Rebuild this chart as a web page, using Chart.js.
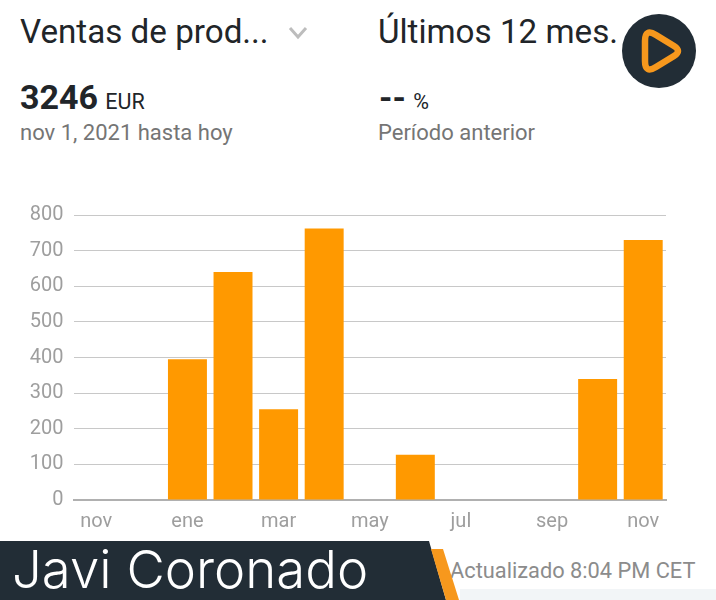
<!DOCTYPE html>
<html>
<head>
<meta charset="utf-8">
<script src="https://cdn.jsdelivr.net/npm/chart.js@4"></script>
<style>
html, body { margin: 0; padding: 0; background: #fff; }
#page { position: relative; width: 716px; height: 600px; overflow: hidden; font-family: Roboto, sans-serif; }
#page div { position: absolute; white-space: nowrap; }
#chart-box { left: 0; top: 193px; width: 716px; height: 347px; }
.title { font-size: 33.2px; line-height: 38px; color: #212529; top: 13px; }
.sub { font-size: 22px; line-height: 24px; color: #757575; top: 121px; }
.big { top: 78px; line-height: 38px; color: #212529; font-size: 21.5px; }
.big b { font-size: 34px; font-weight: 700; margin-right: 2px; }
#updated { left: 450px; top: 558px; font-size: 21.8px; line-height: 26px; color: #8c8c8c; }
#strip { left: 460px; top: 589px; width: 256px; height: 11px; background: #f2f5f7; }
#name { left: 12px; top: 538px; font-size: 52.7px; line-height: 62px; color: #fff; font-weight: 300; font-family: Inter, sans-serif; }
svg { position: absolute; left: 0; top: 0; }
</style>
</head>
<body>
<div id="page">
  <div id="chart-box"><canvas id="sales-chart"></canvas></div>

  <div class="title" style="left:20px">Ventas de prod...</div>
  <div class="title" style="left:378px">Últimos 12 mes.</div>
  <div class="big" style="left:20px"><b>3246</b> EUR</div>
  <div class="big" style="left:379px"><b>--</b> %</div>
  <div class="sub" style="left:20px">nov 1, 2021 hasta hoy</div>
  <div class="sub" style="left:378px">Período anterior</div>
  <div id="strip"></div>
  <div id="updated">Actualizado 8:04 PM CET</div>

  <svg width="716" height="600">
    <polyline points="290,28 298,37 306,28" fill="none" stroke="#bdbdbd" stroke-width="3"/>
    <circle cx="659" cy="51" r="37" fill="#222d36"/>
    <path d="M645 41 Q645 28 656 35 L674 46 Q682 51 674 56 L656 67 Q645 74 645 61 Z" fill="none" stroke="#f7981d" stroke-width="6.5" stroke-linejoin="round"/>
    <polygon points="0,541 429,541 446,600 0,600" fill="#222d36"/>
    <polygon points="431,549 443,549 459,600 446,600" fill="#f7981d"/>
  </svg>
  <div id="name">Javi Coronado</div>
</div>

<script>
const months = ['nov', 'dic', 'ene', 'feb', 'mar', 'abr', 'may', 'jun', 'jul', 'ago', 'sep', 'oct', 'nov'];
const sales = [0, 0, 395, 640, 255, 762, 0, 127, 0, 0, 0, 340, 730];
const yTicks = [0, 100, 200, 300, 400, 500, 600, 700, 800];

const ctx = document.getElementById('sales-chart').getContext('2d');

new Chart(ctx, {
    type: 'bar',
    data: {
        labels: months,
        datasets: [{
            data: sales,
            backgroundColor: '#ff9900',
            categoryPercentage: 1,
            barPercentage: 0.855
        }]
    },
    options: {
        responsive: true,
        maintainAspectRatio: false,
        animation: false,
        layout: { padding: { top: 8, right: 50, bottom: 0, left: 0 } },
        plugins: {
            legend: { display: false },
            tooltip: { enabled: false }
        },
        scales: {
            x: {
                grid: { display: false },
                border: { color: '#b0b0b0', width: 2 },
                ticks: {
                    autoSkip: false,
                    maxRotation: 0,
                    padding: 2,
                    color: '#9e9e9e',
                    font: { family: 'Roboto', size: 20 },
                    callback: function (value, index) {
                        return index % 2 === 0 ? months[index] : '';
                    }
                },
                afterFit: function (scale) { scale.height = 40; }
            },
            y: {
                min: 0,
                max: 800,
                afterBuildTicks: function (scale) {
                    scale.ticks = yTicks.map(function (v) { return { value: v }; });
                },
                grid: { color: '#c8c8c8', lineWidth: 1, drawTicks: false },
                border: { display: false },
                ticks: {
                    padding: 10,
                    color: '#9e9e9e',
                    font: { family: 'Roboto', size: 20 }
                },
                afterFit: function (scale) { scale.width = 73.5; }
            }
        }
    }
});
</script>
</body>
</html>
